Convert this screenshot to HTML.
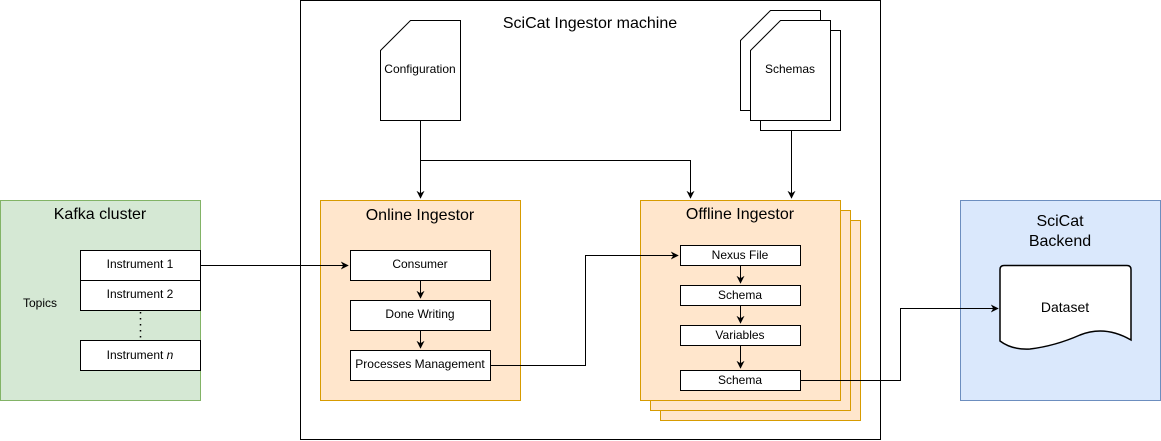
<!DOCTYPE html>
<html><head><meta charset="utf-8"><style>
html,body{margin:0;padding:0;background:#fff;}
svg{display:block;font-family:"Liberation Sans",Arial,sans-serif;}
</style></head><body>
<svg width="1161" height="441" viewBox="0 0 1161 441" xmlns="http://www.w3.org/2000/svg">
<defs>
<marker id="a" viewBox="0 0 10 10" refX="9" refY="5" markerWidth="8" markerHeight="8" orient="auto" markerUnits="userSpaceOnUse">
<path d="M0,0 L10,5 L0,10 L3,5 Z" fill="#000"/></marker>
</defs>
<!-- machine -->
<rect x="300.5" y="0.5" width="580" height="439" fill="#fff" stroke="#000"/>
<text x="590" y="28" font-size="16" text-anchor="middle">SciCat Ingestor machine</text>
<!-- config -->
<path d="M380.5,50.5 L410.5,20.5 L460.5,20.5 L460.5,120.5 L380.5,120.5 Z" fill="#fff" stroke="#000"/>
<text x="420" y="73" font-size="12" text-anchor="middle">Configuration</text>
<!-- schemas -->
<rect x="760.5" y="30.5" width="80" height="100" fill="#fff" stroke="#000"/>
<path d="M740.5,40.5 L770.5,10.5 L820.5,10.5 L820.5,110.5 L740.5,110.5 Z" fill="#fff" stroke="#000"/>
<path d="M750.5,50.5 L780.5,20.5 L830.5,20.5 L830.5,120.5 L750.5,120.5 Z" fill="#fff" stroke="#000"/>
<text x="790" y="73" font-size="12" text-anchor="middle">Schemas</text>
<!-- connectors top -->
<path d="M420.5,120.5 V198" fill="none" stroke="#000" marker-end="url(#a)"/>
<path d="M420.5,160.5 H690.5 V198" fill="none" stroke="#000" marker-end="url(#a)"/>
<path d="M791.5,130.5 V198" fill="none" stroke="#000" marker-end="url(#a)"/>
<!-- kafka -->
<rect x="0.5" y="200.5" width="200" height="200" fill="#d5e8d4" stroke="#82b366"/>
<text x="100" y="219" font-size="16" text-anchor="middle">Kafka cluster</text>
<text x="40" y="307" font-size="12" text-anchor="middle">Topics</text>
<rect x="80.5" y="250.5" width="120" height="30" fill="#fff" stroke="#000"/>
<text x="140" y="268" font-size="12" text-anchor="middle">Instrument 1</text>
<rect x="80.5" y="280.5" width="120" height="30" fill="#fff" stroke="#000"/>
<text x="140" y="298" font-size="12" text-anchor="middle">Instrument 2</text>
<path d="M140.5,312 V340" stroke="#000" stroke-dasharray="1.5,4.5" stroke-width="1.5"/>
<rect x="80.5" y="340.5" width="120" height="30" fill="#fff" stroke="#000"/>
<text x="140" y="359" font-size="12" text-anchor="middle">Instrument <tspan font-style="italic">n</tspan></text>
<!-- online -->
<rect x="320.5" y="200.5" width="200" height="200" fill="#ffe6cc" stroke="#d79b00"/>
<text x="420" y="220" font-size="16" text-anchor="middle">Online Ingestor</text>
<rect x="350.5" y="250.5" width="140" height="30" fill="#fff" stroke="#000"/>
<text x="420" y="268" font-size="12" text-anchor="middle">Consumer</text>
<rect x="350.5" y="300.5" width="140" height="30" fill="#fff" stroke="#000"/>
<text x="420" y="318" font-size="12" text-anchor="middle">Done Writing</text>
<rect x="350.5" y="350.5" width="140" height="30" fill="#fff" stroke="#000"/>
<text x="420" y="368" font-size="12" text-anchor="middle">Processes Management</text>
<path d="M420.5,280.5 V298" stroke="#000" marker-end="url(#a)"/>
<path d="M420.5,330.5 V348" stroke="#000" marker-end="url(#a)"/>
<path d="M200.5,265.5 H348" fill="none" stroke="#000" marker-end="url(#a)"/>
<!-- offline -->
<rect x="660.5" y="220.5" width="200" height="200" fill="#ffe6cc" stroke="#d79b00"/>
<rect x="650.5" y="210.5" width="200" height="200" fill="#ffe6cc" stroke="#d79b00"/>
<rect x="640.5" y="200.5" width="200" height="200" fill="#ffe6cc" stroke="#d79b00"/>
<text x="740" y="219" font-size="16" text-anchor="middle">Offline Ingestor</text>
<rect x="680.5" y="245.5" width="120" height="20" fill="#fff" stroke="#000"/>
<text x="740" y="259" font-size="12" text-anchor="middle">Nexus File</text>
<rect x="680.5" y="285.5" width="120" height="20" fill="#fff" stroke="#000"/>
<text x="740" y="299" font-size="12" text-anchor="middle">Schema</text>
<rect x="680.5" y="325.5" width="120" height="20" fill="#fff" stroke="#000"/>
<text x="740" y="339" font-size="12" text-anchor="middle">Variables</text>
<rect x="680.5" y="370.5" width="120" height="20" fill="#fff" stroke="#000"/>
<text x="740" y="384" font-size="12" text-anchor="middle">Schema</text>
<path d="M740.5,265.5 V283" stroke="#000" marker-end="url(#a)"/>
<path d="M740.5,305.5 V323" stroke="#000" marker-end="url(#a)"/>
<path d="M740.5,345.5 V368" stroke="#000" marker-end="url(#a)"/>
<path d="M490.5,365.5 H585.5 V255.5 H678" fill="none" stroke="#000" marker-end="url(#a)"/>
<!-- backend -->
<rect x="960.5" y="200.5" width="200" height="200" fill="#dae8fc" stroke="#6c8ebf"/>
<text x="1060" y="226" font-size="16" text-anchor="middle">SciCat</text>
<text x="1060" y="246" font-size="16" text-anchor="middle">Backend</text>
<path d="M1004,265.5 H1127 Q1131,265.5 1131,269.5 V340 Q1105,325 1080,335 Q1055,346 1030,349 Q1012,350 1000,341 V269.5 Q1000,265.5 1004,265.5 Z" fill="#fff" stroke="#000" stroke-width="1.5"/>
<text x="1065" y="312" font-size="14" text-anchor="middle">Dataset</text>
<path d="M800.5,380.5 H900.5 V308.5 H998" fill="none" stroke="#000" marker-end="url(#a)"/>
</svg>
</body></html>
